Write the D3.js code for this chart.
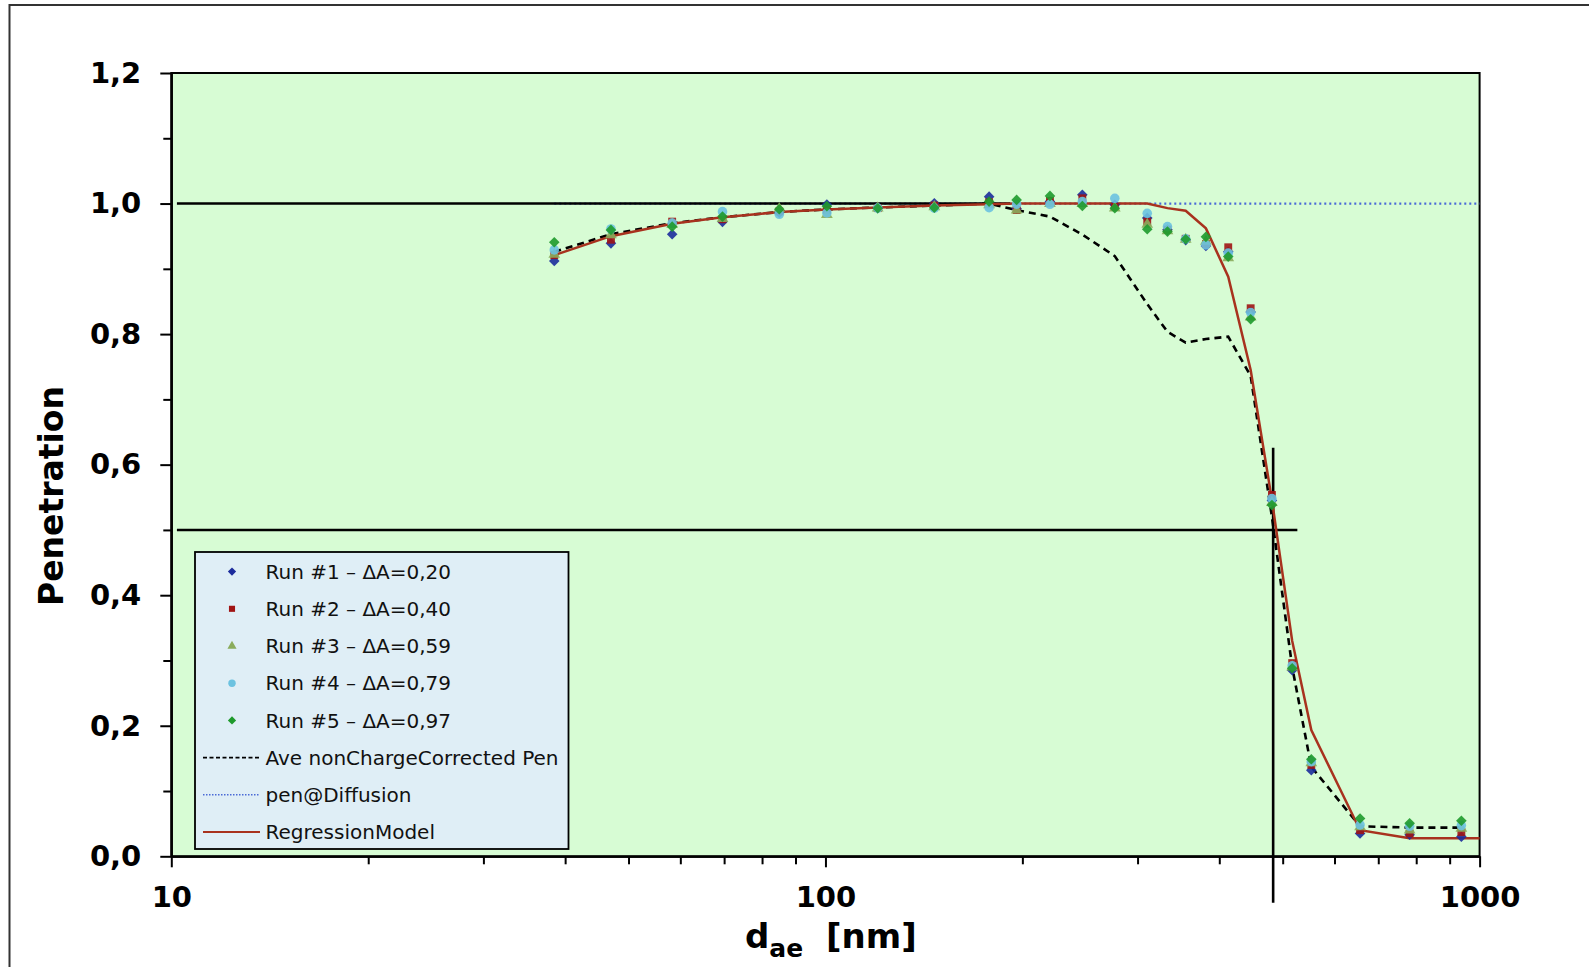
<!DOCTYPE html>
<html>
<head>
<meta charset="utf-8">
<script src="https://cdn.jsdelivr.net/npm/d3@7"></script>
<style>
  html, body { margin: 0; padding: 0; background: #ffffff; }
  svg { display: block; }
</style>
</head>
<body>
<svg id="chart" width="1589" height="967"></svg>
<script>
// ---------- DATA ----------
const diameters = [38.5, 47.0, 58.3, 69.6, 85.0, 100.5, 120.2, 146.7, 177.9, 196, 220.4, 247, 276.9,
  310.4, 333.3, 355.4, 381.6, 412.8, 446.7, 481.4, 517, 553, 656.5, 781.7, 937.8];

const run1 = [0.912, 0.939, 0.953, 0.972, 0.986, 0.9985, 0.993, 1.0005, 1.0106, 0.992, 1.003, 1.0133, 0.998,
  0.978, 0.960, 0.944, 0.935, 0.926, 0.834, 0.545, 0.285, 0.132, 0.035, 0.033, 0.030];
const run2 = [0.921, 0.9446, 0.9723, 0.976, 0.988, 0.990, 0.993, 0.997, 1.002, 0.990, 1.004, 1.008, 0.995,
  0.9723, 0.960, 0.946, 0.938, 0.933, 0.8396, 0.5536, 0.296, 0.140, 0.040, 0.035, 0.037];
const run3 = [0.922, 0.952, 0.968, 0.977, 0.992, 0.983, 0.993, 0.995, 0.998, 0.9898, 1.000, 1.000, 0.993,
  0.968, 0.958, 0.945, 0.942, 0.917, 0.826, 0.542, 0.290, 0.143, 0.045, 0.040, 0.043];
const run4 = [0.929, 0.961, 0.970, 0.9876, 0.9836, 0.9856, 0.993, 0.993, 0.9937, 0.999, 0.9989, 1.003, 1.008,
  0.9851, 0.9646, 0.946, 0.9366, 0.924, 0.8329, 0.548, 0.292, 0.145, 0.048, 0.046, 0.047];
const run5 = [0.9407, 0.9596, 0.9646, 0.980, 0.9913, 0.996, 0.9928, 0.9937, 1.003, 1.0056, 1.0117, 0.9963, 0.9928,
  0.9606, 0.957, 0.9453, 0.949, 0.9187, 0.8227, 0.538, 0.288, 0.1486, 0.058, 0.0505, 0.0545];

const aveNonCharge = [0.926, 0.953, 0.970, 0.979, 0.987, 0.991, 0.994, 0.997, 1.000, 0.990, 0.980, 0.9525, 0.9195,
  0.846, 0.8035, 0.787, 0.7925, 0.796, 0.736, 0.520, 0.290, 0.137, 0.046, 0.044, 0.044];

const regressionX = [38.5, 47.0, 58.3, 69.6, 85.0, 100.5, 120.2, 146.7, 177.9, 196, 220.4, 247, 276.9,
  310.4, 333.3, 355.4, 381.6, 412.8, 446.7, 481.4, 517, 553, 656.5, 781.7, 937.8, 1000];
const regressionY = [0.921, 0.950, 0.969, 0.979, 0.987, 0.991, 0.994, 0.997, 0.999, 1.000, 1.000, 1.000, 1.000,
  1.000, 0.993, 0.989, 0.962, 0.888, 0.745, 0.546, 0.330, 0.1935, 0.040, 0.0275, 0.0275, 0.0275];

const diffusionX = [38.5, 1000];
const diffusionY = [1.0, 1.0];

// black reference lines: P=1 line, P=0.5 line, d50 vertical
const refOneX = [10.2, 191.5];   const refOneY = [1.0, 1.0];
const refHalfX = [10.2, 526.5];  const refHalfY = [0.5, 0.5];
const d50X = [483.5, 483.5];     const d50Y = [0.626, -0.071];

const seriesNames = ["Run #1 \u2013 \u0394A=0,20", "Run #2 \u2013 \u0394A=0,40", "Run #3 \u2013 \u0394A=0,59",
  "Run #4 \u2013 \u0394A=0,79", "Run #5 \u2013 \u0394A=0,97"];
const lineNames = ["Ave nonChargeCorrected Pen", "pen@Diffusion", "RegressionModel"];

const yMajorTicks = [0, 0.2, 0.4, 0.6, 0.8, 1.0, 1.2];
const yMinorTicks = [0.1, 0.3, 0.5, 0.7, 0.9, 1.1];
const xMajorTicks = [10, 100, 1000];
const xMinorTicks = [20, 30, 40, 50, 60, 70, 80, 90, 200, 300, 400, 500, 600, 700, 800, 900];

// ---------- STYLE ----------
const runColors = ["#1c2c9c", "#a01414", "#8aac5c", "#6cc2e0", "#1e9a2c"];
const diamond = d3.symbolDiamond2 || d3.symbolDiamond;
const runSymbols = [diamond, d3.symbolSquare, d3.symbolTriangle, d3.symbolCircle, diamond];
const runSizes = [72, 62, 60, 72, 72];
const regColor = "#a8321e";
const diffColor = "#4a6ad6";

const svg = d3.select("#chart");
const L = 171.3, R = 1479.6, T = 73, B = 856.3;

const x = d3.scaleLog().domain([10, 1000]).range([L, R]);
const y = d3.scaleLinear().domain([0, 1.2]).range([B, T]);

// outer frame
svg.append("rect").attr("x", 9.5).attr("y", 5).attr("width", 1600).attr("height", 1000)
  .attr("fill", "none").attr("stroke", "#333").attr("stroke-width", 2);

// plot background
svg.append("rect").attr("x", L).attr("y", T).attr("width", R - L).attr("height", B - T)
  .attr("fill", "#d7fcd4");

const fmt = d => d3.format(".1f")(d).replace(".", ",");

// axes
const yMajor = svg.append("g").attr("transform", `translate(${L},0)`)
  .call(d3.axisLeft(y).tickValues(yMajorTicks).tickSize(11).tickSizeOuter(0).tickPadding(19).tickFormat(fmt));
const yMinor = svg.append("g").attr("transform", `translate(${L},0)`)
  .call(d3.axisLeft(y).tickValues(yMinorTicks).tickSize(8).tickSizeOuter(0).tickFormat(""));
const xMajor = svg.append("g").attr("transform", `translate(0,${B})`)
  .call(d3.axisBottom(x).tickValues(xMajorTicks).tickSize(11).tickSizeOuter(0).tickPadding(19).tickFormat(d3.format("d")));
const xMinor = svg.append("g").attr("transform", `translate(0,${B})`)
  .call(d3.axisBottom(x).tickValues(xMinorTicks).tickSize(8).tickSizeOuter(0).tickFormat(""));

[yMajor, yMinor, xMajor, xMinor].forEach(g => {
  g.selectAll("path.domain").attr("stroke", "#000").attr("stroke-width", 2);
  g.selectAll(".tick line").attr("stroke", "#000").attr("stroke-width", 2);
  g.selectAll(".tick text").attr("font-family", "DejaVu Sans").attr("font-weight", "bold")
    .attr("font-size", 29).attr("fill", "#000");
});

// plot border (top/right)
svg.append("rect").attr("x", L).attr("y", T).attr("width", R - L).attr("height", B - T)
  .attr("fill", "none").attr("stroke", "#000").attr("stroke-width", 2);

const line = d3.line().x(d => x(d[0])).y(d => y(d[1]));
const zip = (a, b) => a.map((v, i) => [v, b[i]]);

// pen@Diffusion
svg.append("path").datum(zip(diffusionX, diffusionY)).attr("d", line)
  .attr("fill", "none").attr("stroke", diffColor).attr("stroke-width", 2.2).attr("stroke-dasharray", "2,3");

// reference lines
[[refOneX, refOneY], [refHalfX, refHalfY], [d50X, d50Y]].forEach(([xs, ys]) => {
  svg.append("path").datum(zip(xs, ys)).attr("d", line)
    .attr("fill", "none").attr("stroke", "#000").attr("stroke-width", 2.6);
});

// Ave nonChargeCorrected Pen
svg.append("path").datum(zip(diameters, aveNonCharge)).attr("d", line)
  .attr("fill", "none").attr("stroke", "#000").attr("stroke-width", 2.6).attr("stroke-dasharray", "7,5");

// Regression model
svg.append("path").datum(zip(regressionX, regressionY)).attr("d", line)
  .attr("fill", "none").attr("stroke", regColor).attr("stroke-width", 2.5);

// runs
const runs = [run1, run2, run3, run4, run5];
runs.forEach((vals, i) => {
  svg.append("g").selectAll("path").data(zip(diameters, vals)).join("path")
    .attr("transform", d => `translate(${x(d[0])},${y(d[1])})`)
    .attr("d", d3.symbol().type(runSymbols[i]).size(runSizes[i]))
    .attr("fill", runColors[i]).attr("opacity", 0.9);
});

// legend
const lg = svg.append("g");
lg.append("rect").attr("x", 195).attr("y", 552).attr("width", 373.5).attr("height", 297)
  .attr("fill", "#dfeef6").attr("stroke", "#000").attr("stroke-width", 1.8);
const rowY = i => 571.6 + i * 37.2;
seriesNames.forEach((name, i) => {
  lg.append("path").attr("transform", `translate(232,${rowY(i)})`)
    .attr("d", d3.symbol().type(runSymbols[i]).size(runSizes[i] * 0.6)).attr("fill", runColors[i]);
  lg.append("text").attr("x", 265.5).attr("y", rowY(i)).attr("dy", "0.36em")
    .attr("font-family", "DejaVu Sans").attr("font-size", 20).attr("fill", "#111").text(name);
});
const lineStyles = [
  { stroke: "#000", dash: "4,2.5", w: 1.6 },
  { stroke: diffColor, dash: "1.5,1.5", w: 1.4 },
  { stroke: regColor, dash: null, w: 1.8 }
];
lineNames.forEach((name, j) => {
  const yy = rowY(5 + j);
  const st = lineStyles[j];
  lg.append("line").attr("x1", 203).attr("x2", 260).attr("y1", yy).attr("y2", yy)
    .attr("stroke", st.stroke).attr("stroke-width", st.w).attr("stroke-dasharray", st.dash);
  lg.append("text").attr("x", 265.5).attr("y", yy).attr("dy", "0.36em")
    .attr("font-family", "DejaVu Sans").attr("font-size", 20).attr("fill", "#111").text(name);
});

// axis titles
svg.append("text").attr("transform", "translate(62.7,496) rotate(-90)")
  .attr("text-anchor", "middle").attr("font-family", "DejaVu Sans").attr("font-weight", "bold")
  .attr("font-size", 33).attr("fill", "#000").text("Penetration");

const xt = svg.append("text").attr("x", 745).attr("y", 948.3)
  .attr("font-family", "DejaVu Sans").attr("font-weight", "bold").attr("font-size", 34).attr("fill", "#000");
xt.append("tspan").text("d");
xt.append("tspan").attr("font-size", 25).attr("dy", 8.5).text("ae");
xt.append("tspan").attr("x", 826).attr("dy", -8.5).text("[nm]");
</script>
</body>
</html>
